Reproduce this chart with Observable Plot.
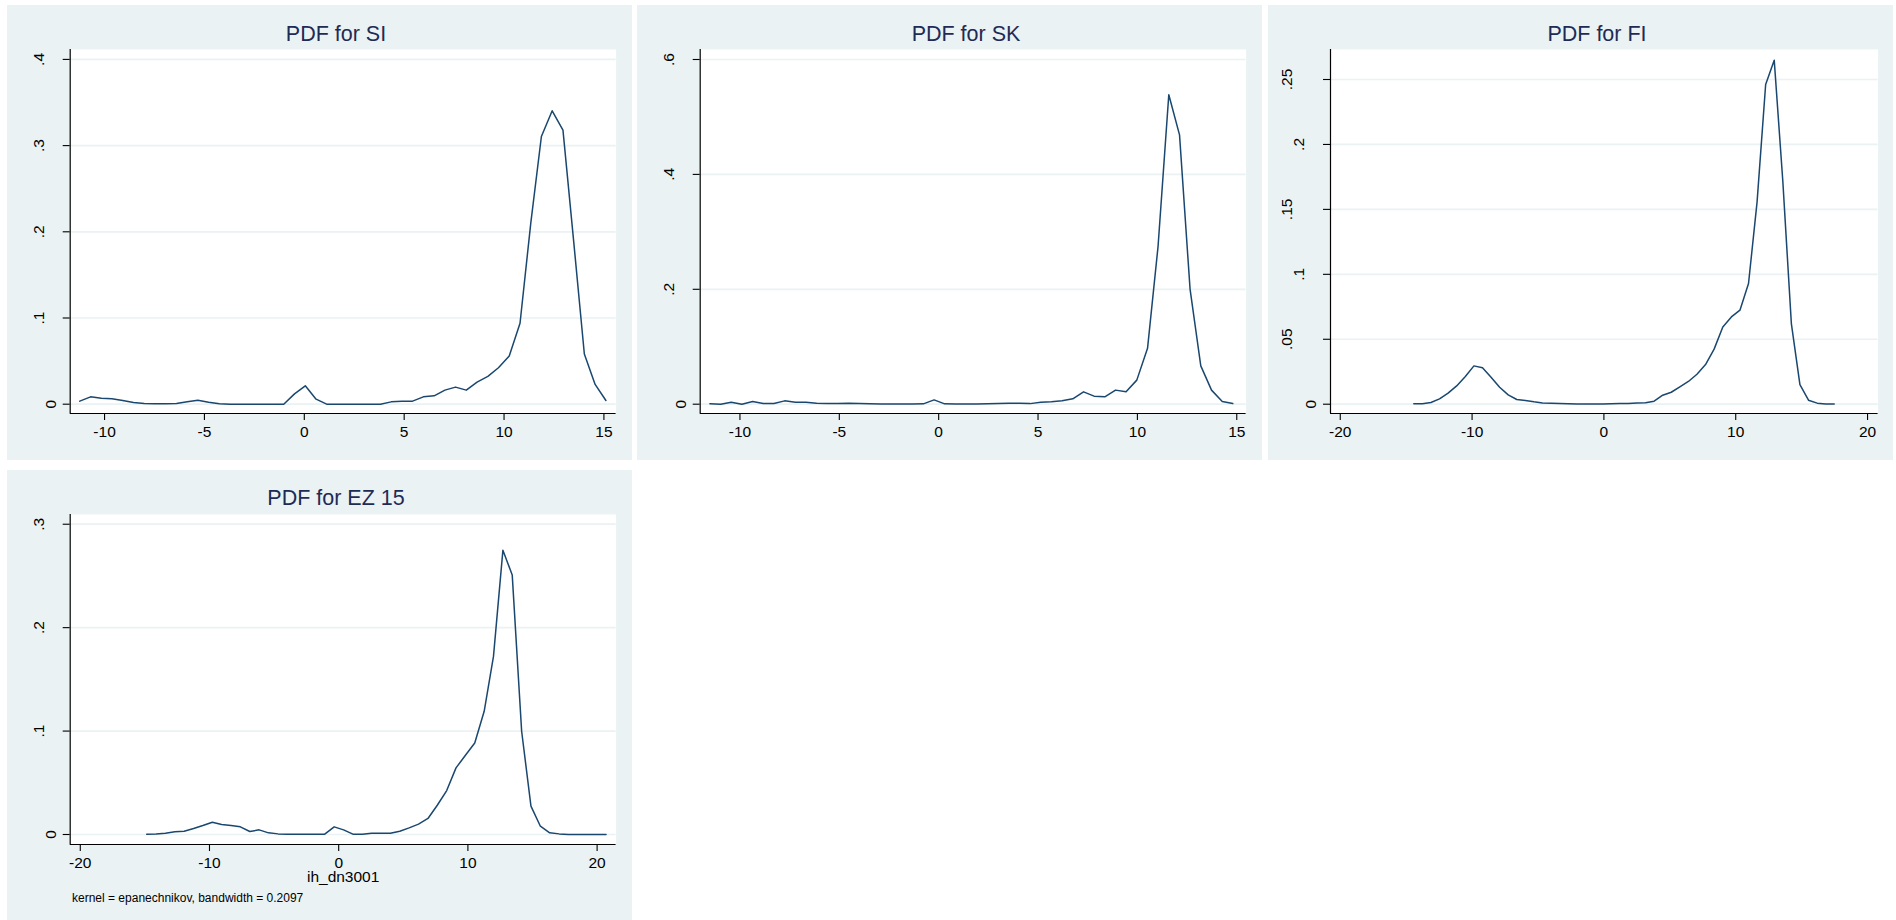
<!DOCTYPE html>
<html><head><meta charset="utf-8">
<script src="https://cdn.jsdelivr.net/npm/d3@7"></script>
<script src="https://cdn.jsdelivr.net/npm/@observablehq/plot@0.6"></script>
<style>
html,body{margin:0;padding:0;background:#fff;width:1896px;height:920px;overflow:hidden;font-family:"Liberation Sans",Arial,sans-serif;position:relative;}
.panel{position:absolute;background:#eaf2f3;}
.panel svg{position:absolute;left:0;top:0;}
.title{position:absolute;left:0;width:658px;text-align:center;font-size:21.5px;line-height:24px;color:#1f2b55;white-space:nowrap;}
.note{position:absolute;font-size:12px;line-height:14px;color:#000;white-space:nowrap;}
</style></head><body>
<script>
// ---- Data (kernel density estimates, 50 points each) ----
const siX = [-11.24,-10.70,-10.16,-9.63,-9.09,-8.55,-8.01,-7.48,-6.94,-6.40,
  -5.86,-5.33,-4.79,-4.25,-3.71,-3.18,-2.64,-2.10,-1.56,-1.03,
  -0.49,0.05,0.59,1.12,1.66,2.20,2.74,3.27,3.81,4.35,
  4.89,5.42,5.96,6.50,7.04,7.57,8.11,8.65,9.19,9.72,
  10.26,10.80,11.34,11.87,12.41,12.95,13.49,14.02,14.56,15.10];
const siY = [0.0035,0.0085,0.0070,0.0062,0.0043,0.0019,0.0008,0.0004,0.0004,0.0008,
  0.0027,0.0046,0.0023,0.0004,0,0,0,0,0,0,
  0.0120,0.0213,0.0058,0,0,0,0,0,0,0.0027,
  0.0035,0.0035,0.0085,0.0097,0.0163,0.0198,0.0163,0.0256,0.0322,0.0423,
  0.0559,0.0939,0.2104,0.3106,0.3404,0.3179,0.1880,0.0582,0.0229,0.0043];

const skX = [-11.51,-10.97,-10.44,-9.90,-9.36,-8.83,-8.29,-7.75,-7.21,-6.68,
  -6.14,-5.60,-5.07,-4.53,-3.99,-3.46,-2.92,-2.38,-1.84,-1.31,
  -0.77,-0.23,0.30,0.84,1.38,1.92,2.45,2.99,3.53,4.06,
  4.60,5.14,5.67,6.21,6.75,7.29,7.82,8.36,8.90,9.43,
  9.97,10.51,11.04,11.58,12.12,12.65,13.19,13.73,14.27,14.80];
const skY = [0.0006,0.0000,0.0035,0.0000,0.0046,0.0012,0.0012,0.0058,0.0035,0.0035,
  0.0017,0.0012,0.0012,0.0017,0.0012,0.0006,0.0003,0.0003,0.0003,0.0003,
  0.0006,0.0075,0.0006,0.0003,0.0003,0.0003,0.0006,0.0010,0.0015,0.0015,
  0.0010,0.0035,0.0041,0.0058,0.0093,0.0215,0.0140,0.0128,0.0245,0.0215,
  0.0419,0.0972,0.2748,0.5386,0.4688,0.2004,0.0667,0.0245,0.0047,0.0012];

const fiX = [-14.42,-13.77,-13.12,-12.47,-11.82,-11.17,-10.51,-9.86,-9.21,-8.56,
  -7.91,-7.26,-6.61,-5.96,-5.31,-4.66,-4.00,-3.35,-2.70,-2.05,
  -1.40,-0.75,-0.10,0.55,1.20,1.85,2.51,3.16,3.81,4.46,
  5.11,5.76,6.41,7.06,7.71,8.36,9.02,9.67,10.32,10.97,
  11.62,12.27,12.92,13.57,14.22,14.87,15.52,16.18,16.83,17.47];
const fiY = [0.0003,0.0003,0.0013,0.0041,0.0085,0.0141,0.0213,0.0295,0.0280,0.0208,
  0.0131,0.0072,0.0036,0.0028,0.0018,0.0010,0.0008,0.0005,0.0003,0.0002,
  0.0002,0.0002,0.0002,0.0003,0.0005,0.0006,0.0010,0.0012,0.0023,0.0069,
  0.0092,0.0133,0.0175,0.0231,0.0305,0.0424,0.0595,0.0672,0.0724,0.0929,
  0.1558,0.2462,0.2649,0.1720,0.0621,0.0151,0.0031,0.0008,0.0001,0.0001];

const ezX = [-14.86,-14.13,-13.41,-12.68,-11.96,-11.23,-10.51,-9.78,-9.06,-8.33,
  -7.61,-6.88,-6.16,-5.43,-4.70,-3.98,-3.25,-2.53,-1.80,-1.08,
  -0.35,0.38,1.10,1.83,2.55,3.28,4.00,4.73,5.45,6.18,
  6.91,7.63,8.36,9.08,9.81,10.53,11.26,11.98,12.71,13.43,
  14.16,14.88,15.61,16.33,17.06,17.78,18.51,19.23,19.96,20.69];
const ezY = [0.0003,0.0006,0.0013,0.0026,0.0032,0.0058,0.0087,0.0119,0.0097,0.0087,
  0.0074,0.0029,0.0045,0.0016,0.0006,0.0003,0.0003,0.0003,0.0003,0.0003,
  0.0074,0.0045,0.0003,0.0003,0.0013,0.0013,0.0013,0.0032,0.0064,0.0100,
  0.0155,0.0283,0.0425,0.0644,0.0766,0.0885,0.1191,0.1722,0.2749,0.2510,
  0.0998,0.0274,0.0080,0.0016,0.0006,0.0001,0.0001,0.0001,0.0001,0.0001];

// ---- Tick values ----
const siXTicks = [-10, -5, 0, 5, 10, 15];
const siYTicks = [0, 0.1, 0.2, 0.3, 0.4];
const skXTicks = [-10, -5, 0, 5, 10, 15];
const skYTicks = [0, 0.2, 0.4, 0.6];
const fiXTicks = [-20, -10, 0, 10, 20];
const fiYTicks = [0, 0.05, 0.1, 0.15, 0.2, 0.25];
const ezXTicks = [-20, -10, 0, 10, 20];
const ezYTicks = [0, 0.1, 0.2, 0.3];

// ---- Texts ----
const titles = ["PDF for SI", "PDF for SK", "PDF for FI", "PDF for EZ 15"];
const xAxisTitle = "ih_dn3001";
const noteText = "kernel = epanechnikov, bandwidth = 0.2097";

// ---- Layout ----
const panels = [
  {title: titles[0], xs: siX, ys: siY, xTicks: siXTicks, yTicks: siYTicks,
   xDomain: [-11.72, 15.61], yDomain: [-0.0108, 0.4115],
   left: 7, top: 5, width: 625, height: 455, ml: 62.7, mr: 16.4, mt: 44, mb: 47, titleTop: 17},
  {title: titles[1], xs: skX, ys: skY, xTicks: skXTicks, yTicks: skYTicks,
   xDomain: [-12.0, 15.47], yDomain: [-0.0162, 0.6174],
   left: 637, top: 5, width: 625, height: 455, ml: 62.7, mr: 16.4, mt: 44, mb: 47, titleTop: 17},
  {title: titles[2], xs: fiX, ys: fiY, xTicks: fiXTicks, yTicks: fiYTicks,
   xDomain: [-20.74, 20.80], yDomain: [-0.00716, 0.2731],
   left: 1268, top: 5, width: 625, height: 455, ml: 62, mr: 15.4, mt: 44, mb: 47, titleTop: 17},
  {title: titles[3], xs: ezX, ys: ezY, xTicks: ezXTicks, yTicks: ezYTicks,
   xDomain: [-20.78, 21.47], yDomain: [-0.00967, 0.3094],
   left: 7, top: 470, width: 625, height: 450, ml: 62.7, mr: 16.4, mt: 44, mb: 76, titleTop: 16,
   axisTitle: xAxisTitle, note: noteText}
];

const fmtY = d => d === 0 ? "0" : String(d).replace(/^0\./, ".").replace(/^-0\./, "-.");
const fmtX = d => String(d);
const labelDx = {1: -19, 2: -31.5, 3: -43};
const FONT = "'Liberation Sans', Arial, sans-serif";

for (const p of panels) {
  const div = document.createElement("div");
  div.className = "panel";
  div.style.left = p.left + "px";
  div.style.top = p.top + "px";
  div.style.width = p.width + "px";
  div.style.height = p.height + "px";
  document.body.appendChild(div);

  const data = p.xs.map((x, i) => ({x, y: p.ys[i]}));
  const marks = [
    Plot.frame({fill: "white", stroke: "none"}),
    Plot.gridY({ticks: p.yTicks, stroke: "#eaf2f3", strokeOpacity: 1, strokeWidth: 1.7}),
    Plot.line(data, {x: "x", y: "y", stroke: "#1a476f", strokeWidth: 1.5}),
    Plot.ruleX([p.xDomain[0]], {stroke: "#000", strokeWidth: 1.2}),
    Plot.ruleY([p.yDomain[0]], {stroke: "#000", strokeWidth: 1.2}),
    Plot.axisX({ticks: p.xTicks, tickSize: 7, tickPadding: 5, fontSize: 15.5, tickFormat: fmtX, label: null, strokeWidth: 1.1}),
    Plot.axisY({ticks: p.yTicks, tickSize: 7, tickFormat: () => "", label: null, strokeWidth: 1.1})
  ];
  for (const n of [1, 2, 3]) {
    const t = p.yTicks.filter(d => fmtY(d).length === n);
    if (t.length) marks.push(Plot.text(t, {y: d => d, text: fmtY, frameAnchor: "left", rotate: -90,
      dx: labelDx[n], fontSize: 15.5, textAnchor: "middle", lineAnchor: "middle", fill: "#000"}));
  }
  if (p.axisTitle) {
    marks.push(Plot.text([p.axisTitle], {text: d => d, frameAnchor: "bottom", dy: 32.5,
      fontSize: 15.5, lineAnchor: "middle", textAnchor: "middle", fill: "#000"}));
  }
  const svg = Plot.plot({
    width: p.width, height: p.height,
    marginLeft: p.ml, marginRight: p.mr, marginTop: p.mt, marginBottom: p.mb,
    x: {domain: p.xDomain, nice: false, zero: false},
    y: {domain: p.yDomain, nice: false, zero: false},
    style: {background: "transparent", fontFamily: FONT, color: "#000", overflow: "visible"},
    marks
  });
  div.appendChild(svg);

  const t = document.createElement("div");
  t.className = "title";
  t.style.top = p.titleTop + "px";
  t.textContent = p.title;
  div.appendChild(t);

  if (p.note) {
    const n = document.createElement("div");
    n.className = "note";
    n.style.left = "65px";
    n.style.top = "421px";
    n.textContent = p.note;
    div.appendChild(n);
  }
}
</script>
</body></html>
